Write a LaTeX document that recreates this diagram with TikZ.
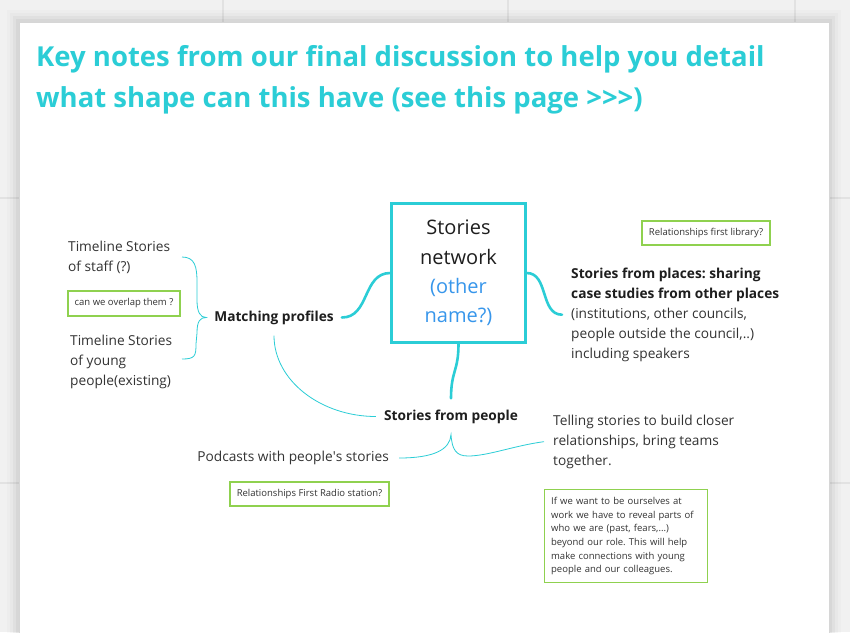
\documentclass[tikz,border=0pt]{standalone}
\usepackage{fontspec}
\setmainfont{Open Sans}
\usepackage{xcolor}
\usetikzlibrary{positioning}
\frenchspacing

\definecolor{miroteal}{RGB}{43,205,214}
\definecolor{miroblue}{RGB}{55,150,235}
\definecolor{mirogreen}{RGB}{143,209,79}
\definecolor{inkdark}{RGB}{30,30,30}
\definecolor{inktext}{RGB}{51,51,51}
\definecolor{boardgray}{RGB}{241,241,241}
\definecolor{gridgray}{RGB}{226,226,226}

\begin{document}
\begin{tikzpicture}[x=1pt, y=-1pt, inner sep=0pt, text=inktext]
  % Styles
  \tikzstyle{hub}=[rectangle, draw=miroteal, line width=2.4pt, minimum width=134pt, minimum height=139pt, align=center, font=\fontsize{20}{29.3}\selectfont, text=inkdark]
  \tikzstyle{topic}=[font=\fontsize{13.7}{20}\selectfont\bfseries, text=inkdark, inner xsep=8pt, inner ysep=11pt]
  \tikzstyle{leaf}=[align=left, font=\fontsize{13.7}{20}\selectfont]
  \tikzstyle{note}=[rectangle, draw=mirogreen, line width=1.3pt, fill=white, font=\fontsize{9.5}{13.7}\selectfont, text=inktext]
  \tikzstyle{wire}=[draw=miroteal, line width=2.6pt, line cap=round]
  \tikzstyle{thinwire}=[draw=miroteal, line width=0.8pt]

  % Board and page
  \useasboundingbox (0,0) rectangle (850,632);
  \fill[boardgray] (0,0) rectangle (850,632);
  \foreach \gx in {223,508,795} \draw[gridgray, line width=1.2pt] (\gx,0) -- (\gx,632);
  \foreach \gy in {198,483} \draw[gridgray, line width=1.2pt] (0,\gy) -- (850,\gy);
  \foreach \s/\o in {12/0.015,9/0.02,6/0.03,3/0.04} \fill[black, opacity=\o] (19-\s,22-\s) rectangle (829+\s,640);
  \fill[white] (19,22) rectangle (829,640);
  \draw[black!16, line width=0.8pt] (19,640) -- (19,22) -- (829,22) -- (829,640);

  % Title
  \node[anchor=north west, align=left, text=miroteal, font=\fontsize{27.5}{40.7}\selectfont\bfseries] (title) at (36,45.1) {Key notes from our final discussion to help you detail\\what shape can this have (see this page >\kern0pt>\kern0pt>)};

  % Centre
  \node[hub] (net) at (458.5,273) {Stories\\network\\\textcolor{miroblue}{(other}\\\textcolor{miroblue}{name?)}};

  % Branches
  \node[topic] (match) at (274,317.5) {Matching profiles};
  \node[topic] (people) at (451,416.5) {Stories from people};
  \node[leaf, anchor=north west, inner xsep=9pt] (places) at (562,267.6) {{\color{inkdark}\bfseries Stories from places: sharing}\\{\color{inkdark}\bfseries case studies from other places}\\(institutions, other councils,\\people outside the council,..)\\including speakers};

  % Leaves
  \node[leaf, anchor=north west] (staff) at (68,240.6) {Timeline Stories\\of staff (?)};
  \node[leaf, anchor=north west] (young) at (70,334.6) {Timeline Stories\\of young\\people(existing)};
  \node[leaf, anchor=east, inner xsep=10pt] (podcasts) at (399,458) {Podcasts with people\textquotesingle s stories};
  \node[leaf, anchor=north west, inner xsep=9pt] (telling) at (544,414.6) {Telling stories to build closer\\relationships, bring teams\\together.};

  % Notes
  \node[note, minimum width=112pt, minimum height=25pt] (overlap) at (124,303.5) {can we overlap them ?};
  \node[note, minimum width=128pt, minimum height=24pt] (library) at (706,233) {Relationships first library?};
  \node[note, minimum width=159pt, minimum height=24pt] (radio) at (309.5,494) {Relationships First Radio station?};
  \node[note, anchor=north west, align=left, text width=150pt, inner xsep=6.5pt, minimum height=93pt] (reveal) at (544,489) {If we want to be ourselves at\\work we have to reveal parts of\\who we are (past, fears,...)\\beyond our role. This will help\\make connections with young\\people and our colleagues.};

  % Connectors
  \coordinate (stafftip) at (182,257);
  \coordinate (youngtip) at (182,359);
  \draw[wire] (net.west) .. controls +(-28,0) and +(28,0) .. (match.east);
  \draw[wire] (net.east) .. controls +(22,0) and +(-22,0) .. (places.west);
  \draw[wire] (net.south) .. controls +(0,28) and +(0,-28) .. (people.north);
  \draw[thinwire] (match.south) .. controls +(0,45) and +(-55,0) .. (people.west);
  \draw[thinwire] (stafftip) .. controls +(13,0) and +(0,-15) .. (197,282) -- (197,300) .. controls +(0,12) and +(-6,0) .. (match.west) .. controls +(-6,0) and +(0,-12) .. (197,333) -- (196,344) .. controls +(0,12) and +(13,0) .. (youngtip);
  \draw[thinwire] (podcasts.east) .. controls +(35,0) and +(-1,15) .. (people.south) .. controls +(1,15) and +(-12,0) .. (468,456) .. controls +(20,0) and +(-30,4) .. (telling.west);
\end{tikzpicture}
\end{document}
